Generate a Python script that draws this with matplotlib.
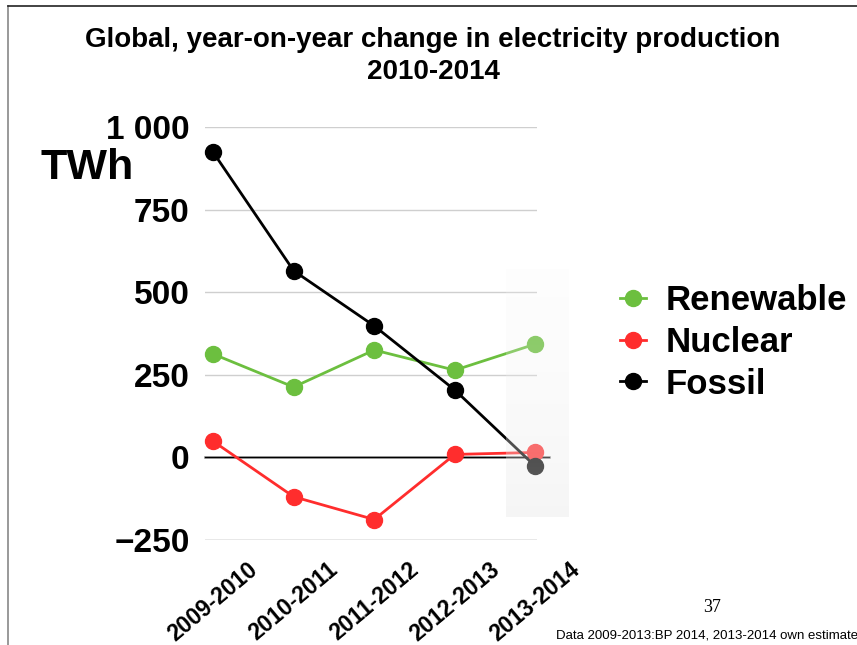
import matplotlib
matplotlib.use("Agg")
import matplotlib.pyplot as plt
import numpy as np
from matplotlib.ticker import FuncFormatter
from matplotlib.lines import Line2D

plt.rcParams['font.family'] = ['Liberation Sans', 'DejaVu Sans']

periods = ['2009-2010', '2010-2011', '2011-2012', '2012-2013', '2013-2014']
renewable = [313, 213, 325, 264, 343]
nuclear = [49, -119, -188, 9, 15]
fossil = [924, 565, 398, 204, -27]
yticks = [-250, 0, 250, 500, 750, 1000]

c_green = '#6cbf3f'
c_red = '#ff2d2d'
c_black = '#000000'

fig = plt.figure(figsize=(8.57, 6.45), dpi=100)
ax = fig.add_axes([205 / 857, 1 - 540 / 645, 332 / 857, 413 / 645])

x = list(range(len(periods)))

# grid lines (drawn by hand, keynote style)
for v in yticks:
    if v == 0:
        continue
    col = '#8a8a8a' if v == -250 else '#cfcfcf'
    ax.axhline(v, color=col, lw=1.0, zorder=1)
# zero line extends past the plot area
ax.plot([-0.1, 4.17], [0, 0], color='#b0b0b0', lw=2.0, zorder=1.5, clip_on=False)
ax.plot([-0.1, 4.17], [0, 0], color='black', lw=1.0, zorder=2, clip_on=False)

series = [('Renewable', renewable, c_green),
          ('Nuclear', nuclear, c_red),
          ('Fossil', fossil, c_black)]
for name, vals, col in series:
    ax.plot(x, vals, color=col, lw=2.0, marker='o', ms=11.5, zorder=3,
            clip_on=False, label=name)

# translucent highlight box (light gradient) over the estimated period
grad = np.zeros((64, 1, 4))
t = np.linspace(0, 1, 64)          # 0 = top, 1 = bottom
grad[:, 0, :3] = (0.97 - 0.06 * t)[:, None]
grad[:, 0, 3] = 0.18 + 0.22 * t
ax.imshow(grad, extent=[3.63, 4.4, -180, 570], aspect='auto', zorder=4,
          clip_on=False, interpolation='bilinear')

ax.set_xlim(-0.1, 4.02)
ax.set_ylim(-250, 1000)
ax.set_yticks(yticks)
ax.yaxis.set_major_formatter(FuncFormatter(
    lambda v, p: ('\u2212' if v < 0 else '') + format(int(abs(v)), ',').replace(',', ' ')))
ax.set_xticks(x)
ax.set_xticklabels(periods, rotation=40, ha='center', va='top',
                   fontsize=16.5, fontweight='bold')
ax.tick_params(axis='x', length=0, pad=13)
ax.tick_params(axis='y', length=0, pad=11, labelsize=24)
for lbl in ax.get_yticklabels():
    lbl.set_fontweight('bold')
for s in ax.spines.values():
    s.set_visible(False)

fig.text(87 / 857, 1 - 168 / 645, 'TWh', fontsize=31, fontweight='bold',
         ha='center', va='center')

fig.text(433 / 857, 1 - 40 / 645, 'Global, year-on-year change in electricity production',
         fontsize=20, fontweight='bold', ha='center', va='center')
fig.text(433 / 857, 1 - 72 / 645, '2010-2014',
         fontsize=20, fontweight='bold', ha='center', va='center')

handles = [Line2D([0], [0], color=c, lw=2.0, marker='o', ms=11.5) for _, _, c in series]
leg = fig.legend(handles, [n for n, _, _ in series], loc='upper left',
                 bbox_to_anchor=(589 / 857, 1 - 253 / 645), frameon=False,
                 handlelength=0.75, handletextpad=0.55, labelspacing=0.25,
                 prop={'size': 25, 'weight': 'bold'})

fig.text(712 / 857, 1 - 608 / 645, '37', fontsize=13, family='Liberation Serif',
         ha='center', va='center')
fig.text(556 / 857, 1 - 636 / 645, 'Data 2009-2013:BP 2014, 2013-2014 own estimate',
         fontsize=9.5, ha='left', va='center')

# slide frame
fig.add_artist(Line2D([8 / 857, 8 / 857], [0, 1 - 6 / 645], color='#888888', lw=1.2))
fig.add_artist(Line2D([8 / 857, 1], [1 - 6 / 645, 1 - 6 / 645], color='#222222', lw=1.2))

fig.savefig('out.png', dpi=100)
